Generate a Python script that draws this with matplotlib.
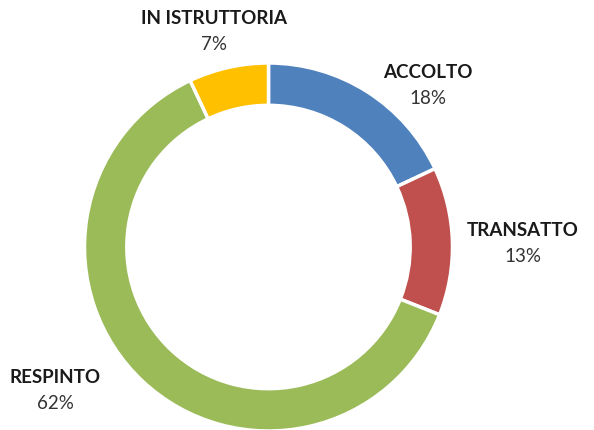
import matplotlib
matplotlib.use("Agg")
import matplotlib.pyplot as plt

categories = ["ACCOLTO", "TRANSATTO", "RESPINTO", "IN ISTRUTTORIA"]
values = [18, 13, 62, 7]
colors = ["#4F81BD", "#C0504D", "#9BBB59", "#FFC000"]

W, H = 594, 431
fig = plt.figure(figsize=(W / 100, H / 100), dpi=100)
cx, cy, r = 268.5, 248, 184
ax = fig.add_axes([(cx - r) / W, (H - cy - r) / H, 2 * r / W, 2 * r / H])
ax.pie(values, colors=colors, startangle=90, counterclock=False, radius=1,
       wedgeprops=dict(width=0.23, edgecolor="white", linewidth=2.5))
ax.set_xlim(-1, 1)
ax.set_ylim(-1, 1)
ax.set_aspect("equal")
ax.axis("off")

label_pos = {
    "ACCOLTO": (428, 72),
    "TRANSATTO": (523, 231),
    "RESPINTO": (55, 378),
    "IN ISTRUTTORIA": (214, 19),
}
fam = ["Lato", "DejaVu Sans"]
for cat, val in zip(categories, values):
    x, y = label_pos[cat]
    fig.text(x / W, 1 - y / H, cat, ha="center", va="center", fontsize=13.5,
             fontweight="bold", color="#1a1a1a", family=fam)
    fig.text(x / W, 1 - (y + 26) / H, f"{val}%", ha="center", va="center",
             fontsize=13.5, color="#333333", family=fam)

fig.savefig("out.png", dpi=100)
